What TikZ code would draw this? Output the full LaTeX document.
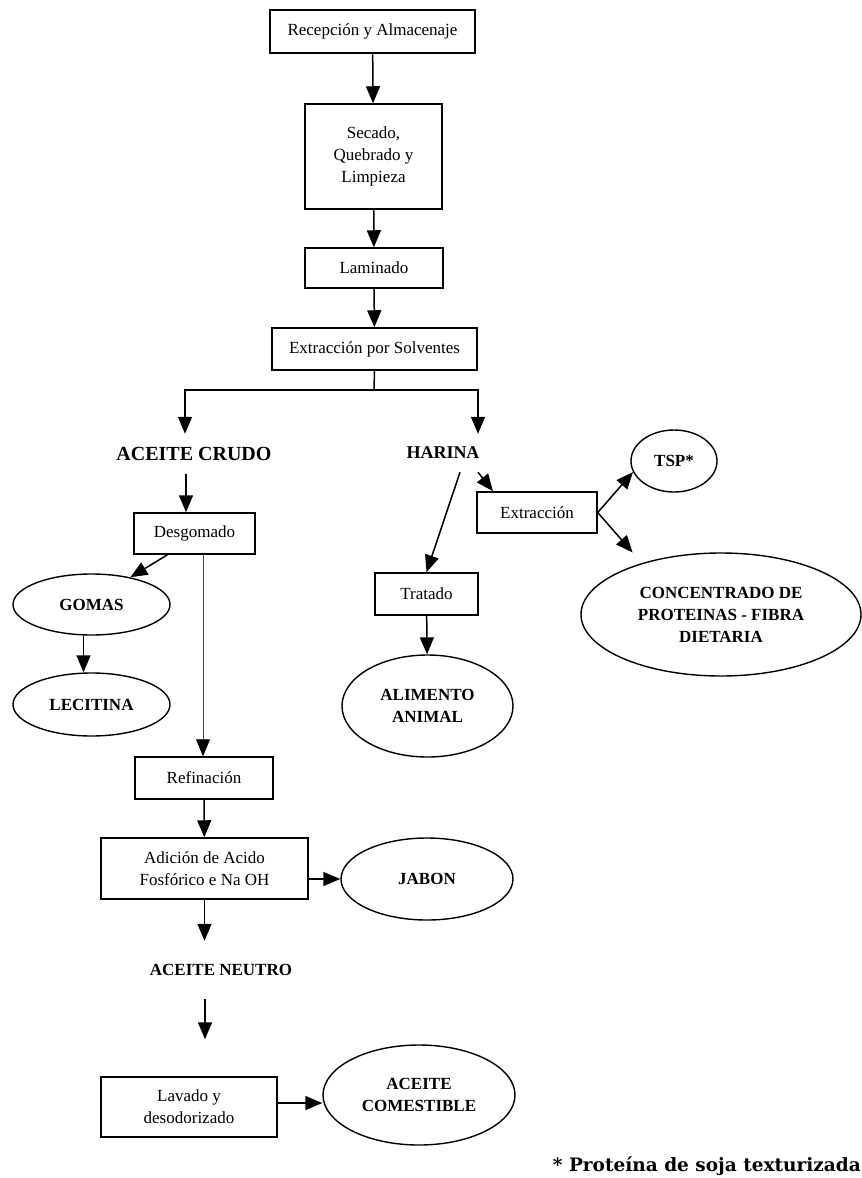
\documentclass[tikz,border=0pt]{standalone}
\usepackage{fontspec}
\setmainfont{Liberation Serif}
\newfontfamily\notafont{DejaVu Serif}
\usetikzlibrary{positioning}
\usetikzlibrary{shapes.geometric}
\usetikzlibrary{arrows.meta}

\begin{document}
\begin{tikzpicture}[x=1pt, y=-1pt,
    caja/.style={draw, line width=1.5pt, inner sep=0pt, align=center, font=\fontsize{17}{22}\selectfont},
    elipse/.style={draw, ellipse, line width=1.4pt, inner sep=0pt, align=center, font=\bfseries\fontsize{17}{22}\selectfont},
    producto/.style={inner sep=0pt, font=\bfseries\fontsize{17}{20}\selectfont},
    flecha/.style={line width=1.5pt, -{Triangle[length=17pt, width=14pt]}},
    flechafina/.style={line width=0.9pt, draw=black!70, -{Triangle[length=17pt, width=14pt, black]}}]
          \useasboundingbox (0,0) rectangle (862,1178);

          \node[caja, minimum width=205pt, minimum height=43pt] (recepcion) at (372.5,31.5) {Recepción y Almacenaje};
          \node[caja, minimum width=137pt, minimum height=105pt] (secado) at (373.5,156.5) {Secado,\\ Quebrado y\\ Limpieza};
          \node[caja, minimum width=138pt, minimum height=40pt] (laminado) at (374,268) {Laminado};
          \node[caja, minimum width=205pt, minimum height=42pt] (solventes) at (374.5,349) {Extracción por Solventes};
          \coordinate (rama) at (374,390);

          \node[producto, font=\bfseries\fontsize{20}{22}\selectfont, minimum height=40pt] (crudo) at (194,454) {ACEITE CRUDO};
          \node[producto, font=\bfseries\fontsize{18}{20}\selectfont, minimum height=38pt] (harina) at (443,453) {HARINA};

          \node[caja, minimum width=121pt, minimum height=41pt] (desgomado) at (194.5,533.5) {Desgomado};
          \node[elipse, minimum width=157pt, minimum height=61pt] (gomas) at (91.5,604.5) {GOMAS};
          \node[elipse, minimum width=157pt, minimum height=63pt] (lecitina) at (91.5,704.5) {LECITINA};
          \node[caja, minimum width=138pt, minimum height=42pt] (refinacion) at (204,778) {Refinación};
          \node[caja, minimum width=207pt, minimum height=61pt] (adicion) at (204.5,868.5) {Adición de Acido\\ Fosfórico e Na OH};
          \node[elipse, minimum width=172pt, minimum height=82pt] (jabon) at (427,879) {JABON};
          \node[producto, minimum height=58pt] (neutro) at (221,970) {ACEITE NEUTRO};
          \node[caja, minimum width=176pt, minimum height=60pt] (lavado) at (189,1107) {Lavado y\\ desodorizado};
          \node[elipse, minimum width=192pt, minimum height=100pt] (comestible) at (419,1095) {ACEITE\\ COMESTIBLE};

          \node[caja, minimum width=103pt, minimum height=42pt] (tratado) at (426.5,594) {Tratado};
          \node[elipse, minimum width=171pt, minimum height=102pt] (alimento) at (427.5,706) {ALIMENTO\\ ANIMAL};
          \node[caja, minimum width=120pt, minimum height=41pt] (extraccion) at (537,512.5) {Extracción};
          \node[elipse, minimum width=86pt, minimum height=62pt] (tsp) at (674,461) {TSP*};
          \node[elipse, minimum width=280pt, minimum height=123pt] (concentrado) at (721,614.5) {CONCENTRADO DE\\ PROTEINAS - FIBRA\\ DIETARIA};

          \node[anchor=base east, inner sep=0pt, font=\notafont\bfseries\fontsize{18.5}{20}\selectfont] (nota) at (861,1171) {* Proteína de soja texturizada};

          \draw[flecha] (recepcion) -- (secado);
          \draw[flecha] (secado) -- (laminado);
          \draw[flecha] (laminado) -- (solventes);
          \draw[line width=1.5pt] (solventes.south) -- (rama);
          \draw[flecha] (rama) -| ([xshift=-9pt]crudo.north);
          \draw[flecha] (rama) -| ([xshift=35pt]harina.north);

          \draw[flecha] ([xshift=-8pt]crudo.south) -- ([xshift=-8.5pt]desgomado.north);
          \draw[flecha] ([xshift=-27pt]desgomado.south) -- (gomas.35);
          \draw[flecha] ([xshift=-8pt]gomas.south) -- ([xshift=-8pt]lecitina.north);
          \draw[flechafina] ([xshift=8.5pt]desgomado.south) -- ([xshift=-1pt]refinacion.north);
          \draw[flecha] (refinacion) -- (adicion);
          \draw[flecha] (adicion.east |- jabon.west) -- (jabon.west);
          \draw[flecha] (adicion.south) -- (adicion.south |- neutro.north);
          \draw[flecha, shorten >=37pt] ([xshift=-16pt]neutro.south) -- ([xshift=-16pt]neutro.south |- lavado.north);
          \draw[flecha] ([yshift=4pt]lavado.east) -- ([yshift=-8pt]comestible.west);

          \draw[flecha] ([xshift=17pt]harina.south) -- (tratado.north);
          \draw[flecha] (tratado) -- (alimento);
          \draw[flecha] ([xshift=35pt]harina.south) -- ([xshift=-44pt]extraccion.north);
          \draw[flecha] (extraccion.east) -- (tsp.195);
          \draw[flecha, shorten >=14pt] (extraccion.east) -- (concentrado.147);
        \end{tikzpicture}
\end{document}
